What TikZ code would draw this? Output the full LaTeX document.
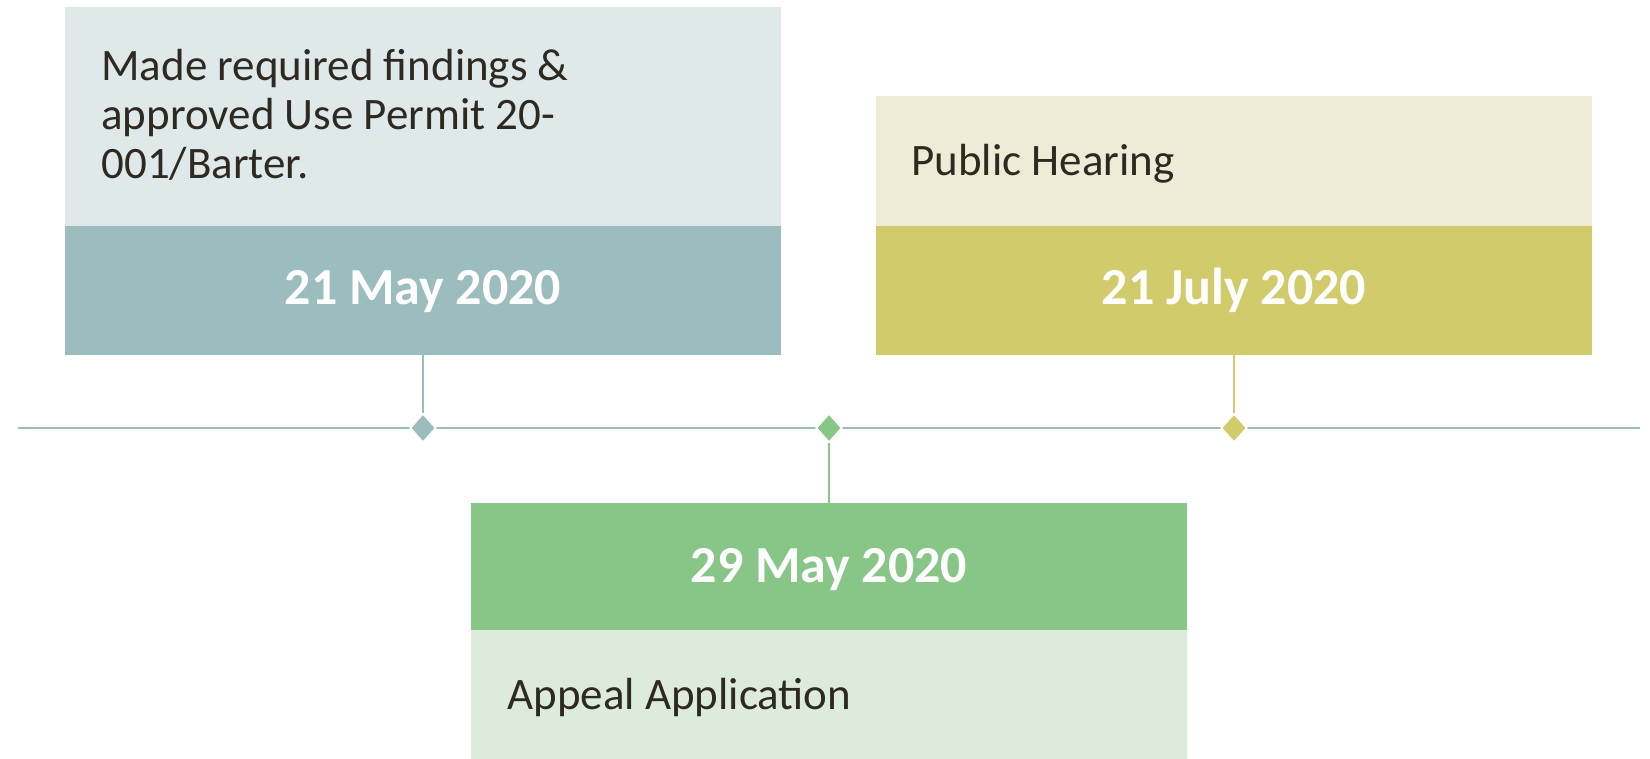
\documentclass[tikz,border=0pt]{standalone}
\usepackage{fontspec}
\setmainfont{Carlito}
\usetikzlibrary{shapes.geometric}

\definecolor{tealhd}{HTML}{9BBDBD}
\definecolor{tealbd}{HTML}{E0E9E9}
\definecolor{olivehd}{HTML}{D2CB6C}
\definecolor{olivebd}{HTML}{EEEBD6}
\definecolor{greenhd}{HTML}{88C687}
\definecolor{greenbd}{HTML}{DDEBDD}
\definecolor{inktxt}{HTML}{2E2A22}

\tikzset{
	card/.style={rectangle, inner sep=0pt, minimum width=358pt},
	datetxt/.style={anchor=base, inner sep=0pt, text=white, font=\fontsize{26}{29}\selectfont\bfseries},
	bodytxt/.style={anchor=base west, inner sep=0pt, text=inktxt, font=\fontsize{22.5}{25}\selectfont},
	markdia/.style={diamond, inner sep=0pt, minimum width=13pt, minimum height=14.5pt, draw=white, line width=0.8pt},
	stem/.style={line width=0.8pt}
}

\begin{document}
\begin{tikzpicture}[x=0.5pt,y=-0.5pt]
\useasboundingbox (0,0) rectangle (1650,759);

\node (bodyA) at (423,116.5) [card,fill=tealbd,minimum height=109.5pt] {};
\node (headA) at (423,290.5) [card,fill=tealhd,minimum height=64.5pt] {};
\node (bodyB) at (1234,161) [card,fill=olivebd,minimum height=65pt] {};
\node (headB) at (1234,290.5) [card,fill=olivehd,minimum height=64.5pt] {};
\node (headC) at (829,566.5) [card,fill=greenhd,minimum height=63.5pt] {};
\node (bodyC) at (829,694.5) [card,fill=greenbd,minimum height=64.5pt] {};

\node (lineA1) at (101,81) [bodytxt] {Made required findings \&};
\node (lineA2) at (101,130) [bodytxt] {approved Use Permit 20-};
\node (lineA3) at (101,179) [bodytxt] {001/Barter.};
\node (lineB) at (911,176) [bodytxt] {Public Hearing};
\node (lineC) at (507,709) [bodytxt] {Appeal Application};

\node (dateA) at (423,305) [datetxt] {21 May 2020};
\node (dateB) at (1234,305) [datetxt] {21 July 2020};
\node (dateC) at (829,582) [datetxt] {29 May 2020};

\coordinate (tlL) at (18,428);
\coordinate (tlR) at (1640,428);
\draw [tealhd,line width=1.1pt] (tlL) -- (tlR);

\node (markA) at (423,428) [markdia,fill=tealhd] {};
\node (markB) at (1234,428) [markdia,fill=olivehd] {};
\node (markC) at (829,428) [markdia,fill=greenhd] {};

\draw [stem,tealhd] (headA.south) -- (markA.north);
\draw [stem,olivehd] (headB.south) -- (markB.north);
\draw [stem,greenhd] (markC.south) -- (headC.north);
\end{tikzpicture}
\end{document}
